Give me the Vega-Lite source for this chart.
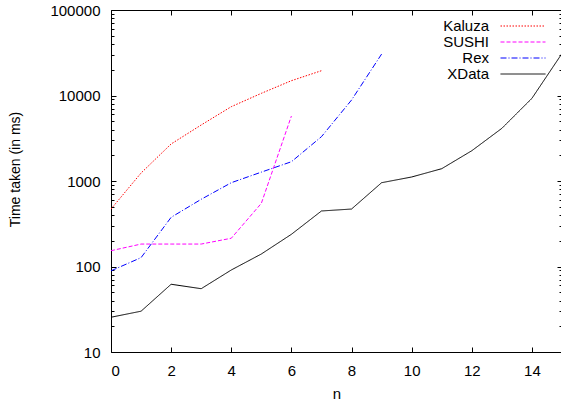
{
  "$schema": "https://vega.github.io/schema/vega-lite/v6.json",
  "width": 451,
  "height": 342,
  "autosize": {"type": "none"},
  "padding": {"left": 111, "top": 10, "right": 0, "bottom": 53},
  "background": "white",
  "config": {
    "font": "Liberation Sans",
    "view": {"stroke": "black", "strokeWidth": 1},
    "axis": {
      "domain": false,
      "grid": false,
      "labelFont": "Liberation Sans",
      "labelFontSize": 15,
      "labelColor": "black",
      "tickColor": "black",
      "tickWidth": 1,
      "titleFont": "Liberation Sans",
      "titleFontSize": 15,
      "titleFontWeight": "normal",
      "titleColor": "black"
    },
    "legend": {
      "orient": "none",
      "legendX": 404.5,
      "legendY": 8.5,
      "labelFont": "Liberation Sans",
      "labelFontSize": 15,
      "labelColor": "black",
      "labelAlign": "right",
      "labelOffset": -41.5,
      "symbolType": "M-4.5,0H4.5",
      "symbolSize": 100,
      "symbolStrokeWidth": 1,
      "symbolFillColor": "transparent",
      "rowPadding": -3,
      "title": null
    }
  },
  "data": {
    "values": [
      {"series": "Kaluza", "n": 0, "t": 470},
      {"series": "Kaluza", "n": 1, "t": 1240},
      {"series": "Kaluza", "n": 2, "t": 2710},
      {"series": "Kaluza", "n": 3, "t": 4520},
      {"series": "Kaluza", "n": 4, "t": 7400},
      {"series": "Kaluza", "n": 5, "t": 10600},
      {"series": "Kaluza", "n": 6, "t": 14900},
      {"series": "Kaluza", "n": 7, "t": 19500},
      {"series": "SUSHI", "n": 0, "t": 153},
      {"series": "SUSHI", "n": 1, "t": 183},
      {"series": "SUSHI", "n": 2, "t": 183},
      {"series": "SUSHI", "n": 3, "t": 183},
      {"series": "SUSHI", "n": 4, "t": 214},
      {"series": "SUSHI", "n": 5, "t": 548},
      {"series": "SUSHI", "n": 6, "t": 5750},
      {"series": "Rex", "n": 0, "t": 89},
      {"series": "Rex", "n": 1, "t": 127},
      {"series": "Rex", "n": 2, "t": 376},
      {"series": "Rex", "n": 3, "t": 611},
      {"series": "Rex", "n": 4, "t": 955},
      {"series": "Rex", "n": 5, "t": 1270},
      {"series": "Rex", "n": 6, "t": 1680},
      {"series": "Rex", "n": 7, "t": 3300},
      {"series": "Rex", "n": 8, "t": 8850},
      {"series": "Rex", "n": 9, "t": 30500},
      {"series": "XData", "n": 0, "t": 25.5},
      {"series": "XData", "n": 1, "t": 30},
      {"series": "XData", "n": 2, "t": 62},
      {"series": "XData", "n": 3, "t": 55},
      {"series": "XData", "n": 4, "t": 91},
      {"series": "XData", "n": 5, "t": 140},
      {"series": "XData", "n": 6, "t": 238},
      {"series": "XData", "n": 7, "t": 446},
      {"series": "XData", "n": 8, "t": 470},
      {"series": "XData", "n": 9, "t": 955},
      {"series": "XData", "n": 10, "t": 1114},
      {"series": "XData", "n": 11, "t": 1393},
      {"series": "XData", "n": 12, "t": 2260},
      {"series": "XData", "n": 13, "t": 4130},
      {"series": "XData", "n": 14, "t": 9270},
      {"series": "XData", "n": 15, "t": 31000}
    ]
  },
  "layer": [
    {
      "mark": {"type": "line", "strokeWidth": 1, "clip": true},
      "encoding": {
        "x": {
          "field": "n",
          "type": "quantitative",
          "scale": {"domain": [0, 15], "nice": false, "zero": false},
          "axis": {
            "orient": "bottom",
            "values": [0, 2, 4, 6, 8, 10, 12, 14],
            "tickSize": -5,
            "labelPadding": 16,
            "title": "n",
            "titlePadding": 8
          }
        },
        "y": {
          "field": "t",
          "type": "quantitative",
          "scale": {"type": "log", "domain": [10, 100000], "nice": false},
          "axis": {
            "orient": "left",
            "values": [10, 20, 30, 40, 50, 60, 70, 80, 90, 100, 200, 300, 400, 500, 600, 700, 800, 900, 1000, 2000, 3000, 4000, 5000, 6000, 7000, 8000, 9000, 10000, 20000, 30000, 40000, 50000, 60000, 70000, 80000, 90000, 100000],
            "tickSize": {"condition": {"test": "indexof([10,100,1000,10000,100000], datum.value) >= 0", "value": -5}, "value": -3},
            "labelExpr": "indexof([10,100,1000,10000,100000], datum.value) >= 0 ? format(datum.value, 'd') : ''",
            "labelPadding": 16,
            "title": "Time taken (in ms)",
            "titleX": -96,
            "titleY": 159,
            "titleAlign": "center",
            "titleBaseline": "middle",
            "titleFontSize": 14
          }
        },
        "color": {
          "field": "series",
          "type": "nominal",
          "scale": {"domain": ["Kaluza", "SUSHI", "Rex", "XData"], "range": ["#ff0000", "#ff00ff", "#0000ff", "#000000"]}
        },
        "strokeDash": {
          "field": "series",
          "type": "nominal",
          "scale": {"domain": ["Kaluza", "SUSHI", "Rex", "XData"], "range": [[1.5, 1.5], [4, 2], [6, 2, 1, 2], [1, 0]]}
        }
      }
    },
    {
      "mark": {"type": "line", "opacity": 0},
      "encoding": {
        "x": {
          "field": "n",
          "type": "quantitative",
          "axis": {"orient": "top", "values": [0, 2, 4, 6, 8, 10, 12, 14], "tickSize": -5, "labels": false, "title": null}
        },
        "y": {
          "field": "t",
          "type": "quantitative",
          "axis": {
            "orient": "right",
            "values": [10, 20, 30, 40, 50, 60, 70, 80, 90, 100, 200, 300, 400, 500, 600, 700, 800, 900, 1000, 2000, 3000, 4000, 5000, 6000, 7000, 8000, 9000, 10000, 20000, 30000, 40000, 50000, 60000, 70000, 80000, 90000, 100000],
            "tickSize": {"condition": {"test": "indexof([10,100,1000,10000,100000], datum.value) >= 0", "value": -5}, "value": -3},
            "labels": false,
            "title": null
          }
        },
        "detail": {"field": "series", "type": "nominal"}
      }
    }
  ],
  "resolve": {"axis": {"x": "independent", "y": "independent"}}
}
